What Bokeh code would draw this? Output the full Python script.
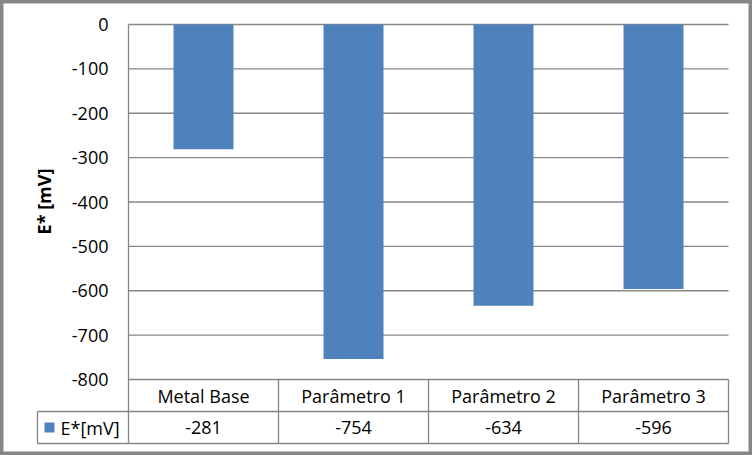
import math
from bokeh.plotting import figure
from bokeh.models import Range1d
from bokeh.core.properties import value
from bokeh.embed import file_html
from bokeh.resources import INLINE

# ---- data ----
categories = ["Metal Base", "Parâmetro 1", "Parâmetro 2", "Parâmetro 3"]
values = [-281, -754, -634, -596]
y_ticks = [0, -100, -200, -300, -400, -500, -600, -700, -800]
tick_labels = ["0", "-100", "-200", "-300", "-400", "-500", "-600", "-700", "-800"]
series_name = "E*[mV]"
axis_title = "E* [mV]"

# ---- layout (pixel geometry) ----
W, H = 752, 455
COL_PX = 150.0                 # width of one category column in pixels
PLOT_LEFT_PX = 128.0
Y0_PX = 24.0                   # pixel row of value 0
K = 355.0 / 800.0              # pixels per mV

x_start = -0.5 - PLOT_LEFT_PX / COL_PX
x_end = x_start + W / COL_PX
y_end = Y0_PX / K
y_start = y_end - H / K

def xpx(px):
    return x_start + px / COL_PX

def ypx(py):
    return y_end - py / K

FONT = value("Open Sans")
FS = "18px"
GRID = "#868686"
BAR = "#4F81BD"
TXT = "#000000"

p = figure(width=W, height=H, output_backend="svg", toolbar_location=None,
           x_range=Range1d(x_start, x_end), y_range=Range1d(y_start, y_end),
           min_border=0, min_border_left=0, min_border_right=0,
           min_border_top=0, min_border_bottom=0)
p.axis.visible = False
p.grid.visible = False
p.outline_line_color = GRID
p.outline_line_width = 6
p.background_fill_color = "white"
p.border_fill_color = "white"

n = len(categories)
xs = list(range(n))
lo, hi = -0.5, n - 0.5
ymin = min(y_ticks)
row1 = ypx(411)
row2 = ypx(443)
table_left = xpx(37)

# gridlines
p.segment(x0=[lo] * len(y_ticks), x1=[hi] * len(y_ticks), y0=y_ticks, y1=y_ticks,
          line_color=GRID, line_width=1.3)

# bars
p.vbar(x=xs, top=[0] * n, bottom=values, width=0.4, fill_color=BAR, line_color=None)

# value axis line (continues through table)
p.segment(x0=[lo], x1=[lo], y0=[max(y_ticks)], y1=[row2], line_color=GRID, line_width=1.3)

# table lines
vx = [i + 0.5 for i in range(n)]
p.segment(x0=vx, x1=vx, y0=[ymin] * n, y1=[row2] * n, line_color=GRID, line_width=1.3)
p.segment(x0=[table_left, table_left], x1=[hi, hi], y0=[row1, row2], y1=[row1, row2],
          line_color=GRID, line_width=1.3)
p.segment(x0=[table_left], x1=[table_left], y0=[row1], y1=[row2], line_color=GRID, line_width=1.3)

# y tick labels
p.text(x=[xpx(108)] * len(y_ticks), y=y_ticks, text=tick_labels, text_font=FONT,
       text_font_size=FS, text_align="right", text_baseline="middle", text_color=TXT)

# axis title
p.text(x=[xpx(43)], y=[ypx(201)], text=[axis_title], angle=math.pi / 2, text_font=FONT,
       text_font_size=FS, text_font_style="bold", text_align="center",
       text_baseline="middle", text_color=TXT)

# category labels
cat_y = (ymin + row1) / 2
p.text(x=xs, y=[cat_y] * n, text=categories, text_font=FONT, text_font_size=FS,
       text_align="center", text_baseline="middle", text_color=TXT)

# data row
val_y = (row1 + row2) / 2
p.text(x=xs, y=[val_y] * n, text=[str(v) for v in values], text_font=FONT,
       text_font_size=FS, text_align="center", text_baseline="middle", text_color=TXT)

# legend key + series name
p.scatter(x=[xpx(49)], y=[val_y], marker="square", size=10, fill_color=BAR, line_color=None)
p.text(x=[xpx(60)], y=[val_y], text=[series_name], text_font=FONT, text_font_size=FS,
       text_align="left", text_baseline="middle", text_color=TXT)

open("out.html", "w").write(file_html(p, INLINE))
